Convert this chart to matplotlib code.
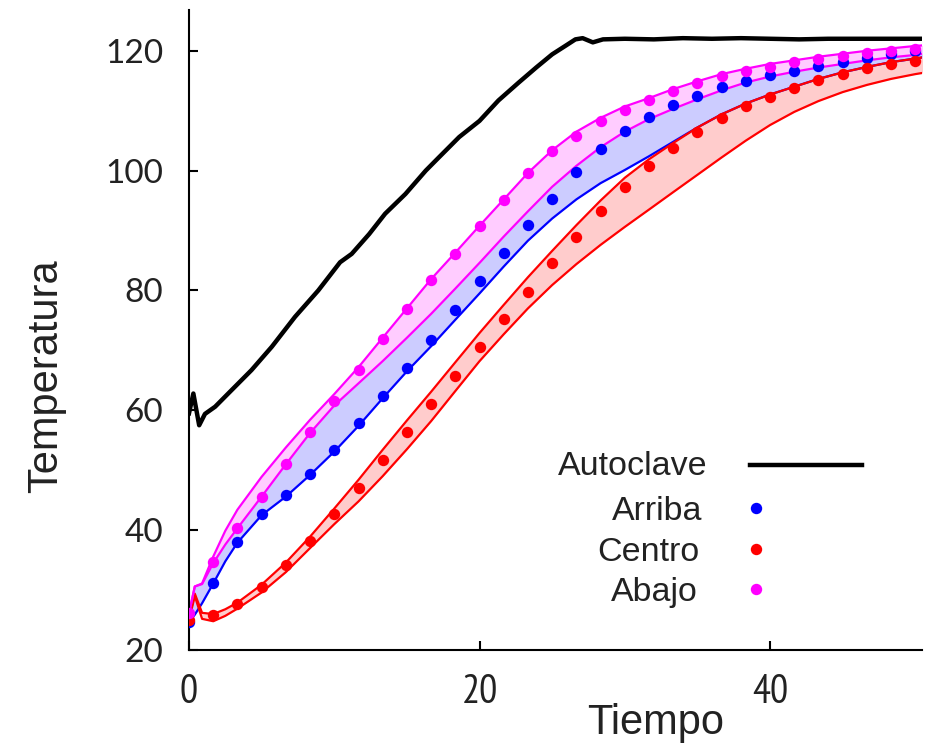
#!/usr/bin/env python3

import numpy as np
from matplotlib import pyplot as plt

# sensor readings, one every 5/3 min
t_pts = [0, 1.67, 3.33, 5, 6.67, 8.33, 10, 11.67, 13.33, 15, 16.67, 18.33,
         20, 21.67, 23.33, 25, 26.67, 28.33, 30, 31.67, 33.33, 35, 36.67,
         38.33, 40, 41.67, 43.33, 45, 46.67, 48.33, 50]
arriba = [24.7, 31.2, 38.1, 42.7, 45.8, 49.3, 53.3, 57.8, 62.4, 67.1, 71.8,
          76.7, 81.5, 86.3, 90.9, 95.3, 99.8, 103.6, 106.6, 108.9, 110.9,
          112.5, 113.9, 115.0, 115.9, 116.7, 117.5, 118.1, 118.8, 119.4, 119.9]
centro = [25.0, 25.8, 27.7, 30.5, 34.2, 38.2, 42.7, 47.0, 51.7, 56.3, 61.0,
          65.8, 70.5, 75.2, 79.8, 84.5, 89.0, 93.3, 97.2, 100.7, 103.7, 106.5,
          108.8, 110.8, 112.3, 113.8, 115.2, 116.2, 117.2, 117.8, 118.3]
abajo = [26.1, 34.7, 40.4, 45.6, 51.1, 56.3, 61.6, 66.8, 71.9, 76.9, 81.8,
         86.1, 90.7, 95.1, 99.6, 103.3, 105.8, 108.2, 110.1, 111.7, 113.2,
         114.6, 115.8, 116.6, 117.3, 118.1, 118.7, 119.2, 119.7, 120.0, 120.3]

# simulated envelopes
t_band = [0, 0.4, 0.9, 1.67, 2.5, 3.33, 5, 6.67, 8.33, 10, 11.67, 13.33, 15,
          16.67, 18.33, 20, 21.67, 23.33, 25, 26.67, 28.33, 30, 31.67, 33.33,
          35, 36.67, 38.33, 40, 41.67, 43.33, 45, 46.67, 48.33, 50, 50.5]
abajo_hi = [26.1, 30.6, 31.1, 35.6, 39.9, 43.4, 48.9, 53.8, 58.4, 62.7, 67.2,
            72.1, 77.0, 81.9, 86.3, 90.8, 95.2, 99.6, 103.4, 106.5, 108.8,
            110.7, 112.1, 113.6, 114.9, 116.1, 117.0, 117.8, 118.4, 119.0,
            119.5, 120.0, 120.4, 120.8, 120.9]
abajo_lo = [26.1, 30.6, 31.0, 34.5, 37.6, 40.3, 45.6, 51.0, 56.2, 60.8, 64.5,
            68.2, 72.1, 76.1, 80.3, 84.6, 89.0, 93.2, 97.3, 100.8, 103.9,
            106.5, 108.6, 110.3, 111.9, 113.4, 114.7, 115.7, 116.5, 117.2,
            117.8, 118.4, 118.9, 119.3, 119.5]
arriba_lo = [24.7, 25.9, 27.8, 31.1, 34.8, 37.9, 42.5, 45.6, 49.2, 53.1, 57.4,
             62.0, 66.5, 70.7, 75.1, 79.5, 84.0, 88.3, 92.0, 95.2, 97.9,
             100.1, 102.4, 104.8, 107.2, 109.4, 111.2, 112.7, 114.0, 115.3,
             116.4, 117.3, 118.1, 118.7, 118.9]
centro_hi = [25.3, 29.4, 26.2, 26.0, 26.8, 27.9, 30.9, 34.6, 38.9, 43.6, 48.4,
             53.4, 58.3, 63.1, 68.0, 72.9, 77.6, 82.2, 86.6, 90.9, 95.0, 98.8,
             101.9, 104.6, 107.2, 109.4, 111.2, 112.7, 114.0, 115.3, 116.4,
             117.3, 118.1, 118.7, 118.9]
centro_lo = [25.0, 29.0, 25.2, 24.8, 25.7, 26.9, 29.6, 33.0, 37.0, 41.0, 44.8,
             49.0, 53.5, 58.2, 63.2, 68.2, 72.7, 77.0, 80.9, 84.4, 87.6, 90.6,
             93.5, 96.4, 99.3, 102.2, 105.0, 107.6, 109.8, 111.6, 113.1, 114.3,
             115.3, 116.1, 116.3]

# autoclave probe
t_auto = [0, 0.3, 0.7, 1.1, 1.8, 2.7, 4.3, 5.7, 7.3, 8.9, 10.4, 11.2, 12.4,
          13.5, 14.9, 16.3, 17.2, 18.6, 20.0, 21.3, 22.7, 23.9, 25.0, 25.9,
          26.6, 27.1, 27.8, 28.5, 30, 32, 34, 36, 38, 40, 42, 44, 46, 48, 50.5]
autoclave = [59.5, 62.8, 57.5, 59.4, 60.6, 62.8, 66.7, 70.6, 75.6, 80.0, 84.7,
             86.1, 89.4, 92.8, 96.1, 100.0, 102.2, 105.6, 108.3, 111.7, 114.7,
             117.2, 119.4, 120.8, 121.9, 122.1, 121.4, 121.9, 122.0, 121.9,
             122.1, 122.0, 122.1, 122.0, 121.9, 122.0, 122.0, 122.0, 122.0]

RED, BLUE, MAG = '#ff0000', '#0000ff', '#ff00ff'
INK = '#222222'

fig = plt.figure(figsize=(9.25, 7.5), dpi=100)
ax = fig.add_axes([189 / 925, 100 / 750, 733 / 925, 640 / 750])

# envelopes
ax.fill_between(t_band, centro_lo, centro_hi, color=RED, alpha=0.2, lw=0, zorder=1)
ax.fill_between(t_band, arriba_lo, abajo_lo, color=BLUE, alpha=0.2, lw=0, zorder=1)
ax.fill_between(t_band, abajo_lo, abajo_hi, color=MAG, alpha=0.2, lw=0, zorder=1)

ax.plot(t_band, arriba_lo, color=BLUE, lw=1.6, zorder=2)
ax.plot(t_band, centro_hi, color=RED, lw=1.6, zorder=2)
ax.plot(t_band, centro_lo, color=RED, lw=1.6, zorder=2)
ax.plot(t_band, abajo_lo, color=MAG, lw=1.6, zorder=2)
ax.plot(t_band, abajo_hi, color=MAG, lw=1.6, zorder=2)

ax.plot(t_auto, autoclave, color='black', lw=3.2, zorder=3,
        solid_joinstyle='round')

ms = 8.2
ax.plot(t_pts, arriba, 'o', color=BLUE, ms=ms, mew=0, zorder=4)
ax.plot(t_pts, centro, 'o', color=RED, ms=ms, mew=0, zorder=4)
ax.plot(t_pts, abajo, 'o', color=MAG, ms=ms, mew=0, zorder=4)

ax.set_xlim(0, 50.46)
ax.set_ylim(20, 126.8)
ax.set_xticks([0, 20, 40])
ax.set_yticks([20, 40, 60, 80, 100, 120])

for side in ('top', 'right'):
    ax.spines[side].set_visible(False)
for side in ('left', 'bottom'):
    ax.spines[side].set_linewidth(1.5)

ax.tick_params(direction='in', length=6.5, width=1.5, colors='black',
               labelcolor=INK)
ax.tick_params(axis='y', pad=18.5, labelsize=24, labelfontfamily='Lato')
ax.tick_params(axis='x', pad=17, labelsize=29,
               labelfontfamily=['PT Sans Narrow', 'Liberation Sans'])

lab = dict(fontsize=30, family='Liberation Sans', color=INK)
ax.set_ylabel('Temperatura', **lab)
ax.set_xlabel('Tiempo', **lab)
ax.yaxis.set_label_coords(-0.167, 0.428)
ax.xaxis.set_label_coords(0.637, -0.083)

# key: labels on the left, samples on the right
key = [('Autoclave', 0.707, 0.273, None),
       ('Arriba', 0.701, 0.203, BLUE),
       ('Centro', 0.696, 0.139, RED),
       ('Abajo', 0.694, 0.077, MAG)]
for name, xr, yb, col in key:
    ax.text(xr, yb, name, transform=ax.transAxes, ha='right', va='baseline',
            fontsize=24.5, family='Liberation Sans', color=INK)
    if col is None:
        ax.plot([0.765, 0.918], [yb + 0.016, yb + 0.016], color='black',
                lw=3.2, transform=ax.transAxes, clip_on=False)
    else:
        ax.plot([0.7735], [yb + 0.019], 'o', color=col, ms=ms, mew=0,
                transform=ax.transAxes, clip_on=False)

plt.savefig('out.png', dpi=100)
